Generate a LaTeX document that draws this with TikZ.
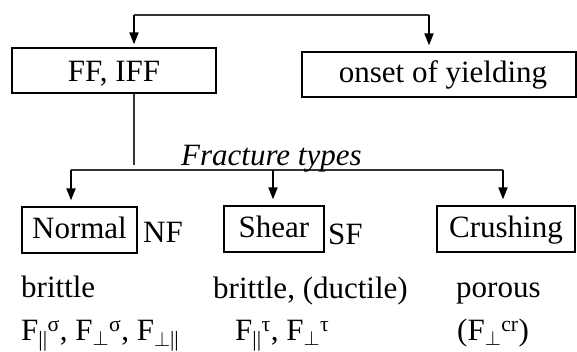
\documentclass[tikz,border=0pt]{standalone}
\usepackage{fontspec}
\setmainfont{Liberation Serif}
\usetikzlibrary{arrows.meta}
\newcommand{\Fpar}{F\textsubscript{||}}
\newcommand{\Fperp}{F\textsubscript{$\perp$}}
\begin{document}
\begin{tikzpicture}[x=1bp,y=-1bp,
  every node/.style={font=\fontsize{31bp}{37bp}\selectfont, inner sep=0pt},
  box/.style={draw, line width=1.3bp, text height=21bp, text depth=5bp},
  plain/.style={anchor=base west},
  bus/.style={line width=1.2bp, draw=black!80},
  drop/.style={line width=2bp, -{Triangle[length=12bp,width=9bp]}},
  small/.style={font=\fontsize{29bp}{34bp}\selectfont}
]
\useasboundingbox (0,0) rectangle (577,351);

% upper boxes
\node[box, minimum width=204bp, minimum height=45bp, text depth=0bp] (ff) at (114,70.5) {FF, IFF};
\node[box, minimum width=274bp, minimum height=45bp] (onset) at (439,74.5) {\hspace*{8bp}onset of yielding};

% fracture type boxes
\node[box, minimum width=115bp, minimum height=46bp] (normal) at (79.5,230) {Normal};
\node[box, minimum width=100bp, minimum height=46bp] (shear) at (274,229) {Shear};
\node[box, minimum width=138bp, minimum height=46bp] (crush) at (506,229) {Crushing};

% abbreviations beside the boxes
\node[plain] (nf) at (143,242) {NF};
\node[plain] (sf) at (328,244) {SF};

% top distribution line
\coordinate (tl) at (134,15);
\coordinate (tr) at (429,15);
\draw[bus] (tl) -- (tr);
\draw[drop, shorten >=3bp] (tl) -- (ff.north -| tl);
\draw[drop, shorten >=6bp] (tr) -- (onset.north -| tr);

% link from FF, IFF down to the fracture types
\coordinate (stem) at (134,165);
\draw[bus] (ff.south -| stem) -- (stem);

% lower distribution line
\coordinate (bl) at (71,170);
\coordinate (bm) at (273,170);
\coordinate (br) at (503,170);
\draw[bus] (bl) -- (br);
\node[plain, font=\fontsize{31bp}{37bp}\selectfont\itshape] (ftypes) at (181,165) {Fracture types};
\draw[drop, shorten >=6bp] (bl) -- (normal.north -| bl);
\draw[drop, shorten >=6bp] (bm) -- (shear.north -| bm);
\draw[drop, shorten >=6bp] (br) -- (crush.north -| br);

% descriptions
\node[plain] (d1) at (21,297) {brittle};
\node[plain] (d2) at (213,298) {brittle, (ductile)};
\node[plain] (d3) at (456,297) {porous};
\node[plain] (c1) at (21,340) {\Fpar\textsuperscript{σ}, \Fperp\textsuperscript{σ}, F\textsubscript{$\perp$||}};
\node[plain] (c2) at (235,340) {\Fpar\textsuperscript{τ}, \Fperp\textsuperscript{τ}};
\node[plain] (c3) at (457,340) {(\Fperp\textsuperscript{cr})};
\end{tikzpicture}
\end{document}
